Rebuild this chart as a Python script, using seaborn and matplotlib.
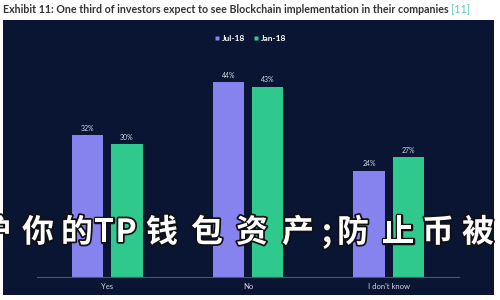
import matplotlib
matplotlib.use("Agg")
import matplotlib.pyplot as plt
import matplotlib.patheffects as pe
from matplotlib.patches import Rectangle
from matplotlib.lines import Line2D
import seaborn as sns
import pandas as pd

categories = ["Yes", "No", "I don't know"]
series_names = ["Jul-18", "Jan-18"]
jul18 = [32, 44, 24]
jan18 = [30, 43, 27]
title_text = "Exhibit 11: One third of investors expect to see Blockchain implementation in their companies"
title_ref = "[11]"
watermark = ["护", "你", "的", "T", "P", "钱", "包", "资", "产", ";", "防", "止", "币", "被", "盗"]

df = pd.DataFrame({
    "category": categories * 2,
    "series": [series_names[0]] * 3 + [series_names[1]] * 3,
    "value": jul18 + jan18,
})

sns.set_theme(style="white")
plt.rcParams["font.family"] = ["Lato", "DejaVu Sans"]

PANEL = "#0a1433"
PURPLE = "#8783ee"
GREEN = "#2fc98e"

fig = plt.figure(figsize=(5, 3), dpi=100)
fig.patch.set_facecolor("white")
fig.patches.append(Rectangle((0.006, 0.0167), 0.982, 0.917, transform=fig.transFigure,
                             facecolor=PANEL, edgecolor="none", zorder=-5))

ax = fig.add_axes([0.074, 0.0767, 0.844, 0.738])
ax.set_facecolor("none")
ax.set_zorder(2)
sns.barplot(data=df, x="category", y="value", hue="series", order=categories,
            hue_order=series_names, palette=[PURPLE, GREEN], width=0.56, gap=0.21,
            ax=ax, legend=False, saturation=1, linewidth=0, edgecolor="none")
ax.set_xlim(-0.5, 2.5)
ax.set_ylim(0, 50)
ax.set_xlabel("")
ax.set_ylabel("")
ax.set_yticks([])
for s in ["top", "left", "right"]:
    ax.spines[s].set_visible(False)
ax.spines["bottom"].set_color("#4b5573")
ax.spines["bottom"].set_linewidth(0.8)
ax.tick_params(axis="x", length=0, pad=4, labelsize=5.5, labelcolor="#d4d8e4")

for cont in ax.containers:
    ax.bar_label(cont, fmt="%d%%", padding=2.5, fontsize=5, color="#d4d8e4")

handles = [Line2D([], [], marker="s", linestyle="none", markersize=3,
                  markerfacecolor=c, markeredgecolor="none") for c in [PURPLE, GREEN]]
fig.legend(handles, series_names, loc="center", bbox_to_anchor=(0.5, 0.873),
           bbox_transform=fig.transFigure, ncol=2, frameon=False,
           labelcolor="white", handlelength=0.6, handletextpad=0.3, columnspacing=1.0,
           prop={"weight": "bold", "size": 6})

t = fig.text(0.006, 0.967, title_text, ha="left", va="center", fontsize=6.8,
             fontweight="bold", color="#333333")
fig.canvas.draw()
w = t.get_window_extent().width
t.set_fontsize(6.8 * 451 / w)
fig.canvas.draw()
bb = t.get_window_extent()
fig.text(bb.x1 / 500 + 0.005, 0.967, title_ref, ha="left", va="center",
         fontsize=t.get_fontsize(), color="#5cc5b5")

wm_x = [-5, 38, 77, 104, 126, 162, 207, 252, 298, 327, 353, 398, 438, 478, 522]
for ch, x in zip(watermark, wm_x):
    fig.text(x / 500, 1 - 233 / 300, ch, ha="center", va="center", fontsize=23,
             fontweight="bold", color="white",
             family=["Noto Sans CJK SC", "DejaVu Sans"],
             path_effects=[pe.withStroke(linewidth=2.5, foreground="#111111")], zorder=10)

fig.savefig("out.png", dpi=100)
